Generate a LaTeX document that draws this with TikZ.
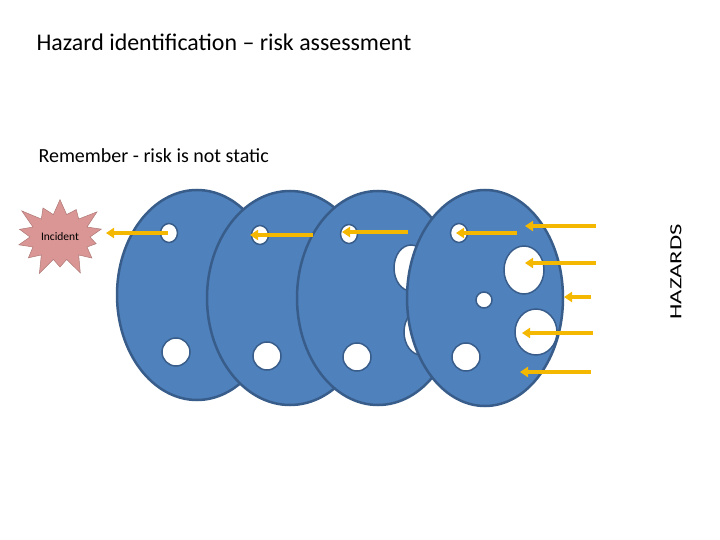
\documentclass[tikz,border=0pt]{standalone}
\usepackage{fontspec}
\setmainfont{Carlito}
\usetikzlibrary{shapes.geometric,shapes.symbols,arrows.meta}
\definecolor{sl}{HTML}{4F81BD}
\definecolor{sb}{HTML}{385D8A}
\definecolor{ar}{HTML}{F5B800}
\definecolor{pk}{HTML}{D99694}
\begin{document}
\begin{tikzpicture}[x=1pt,y=-1pt,
 slice/.style={ellipse,fill=sl,draw=sb,line width=2.5pt,inner sep=0pt},
 hole/.style={ellipse,fill=white,draw=sb,line width=1.5pt,inner sep=0pt},
 haz/.style={draw=ar,line width=3.5pt,-{Triangle[length=8pt,width=10pt]}}]
\useasboundingbox (0,0) rectangle (720,540);
\node[anchor=west,font=\fontsize{23.9}{26}\selectfont] (t) at (33,42) {Hazard identification – risk assessment};
\node[anchor=west,font=\fontsize{20}{22}\selectfont] (r) at (35,156) {Remember - risk is not static};
\node[starburst,starburst points=14,starburst point height=20pt,fill=pk,draw=pk!80!black,line width=0.5pt,minimum width=100pt,minimum height=86pt,font=\fontsize{11.5}{12}\selectfont,inner sep=0pt] (inc) at (60,237) {Incident};
\node[rotate=90,font=\fontsize{17}{19}\selectfont] (hz) at (676,272) {\scalebox{1.45}[1]{HAZARDS}};
% slice 1
\node[slice,minimum width=160pt,minimum height=210pt] (s1) at (197,295) {};
\node[hole,minimum width=17pt,minimum height=19pt] (h11) at (169,233) {};
\node[hole,minimum width=28pt,minimum height=28pt] (h12) at (176,352) {};
% slice 2
\node[slice,minimum width=166pt,minimum height=214pt] (s2) at (290,298) {};
\node[hole,minimum width=17pt,minimum height=19pt] (h21) at (260,235) {};
\node[hole,minimum width=28pt,minimum height=28pt] (h22) at (267,356) {};
% slice 3
\node[slice,minimum width=162pt,minimum height=214pt] (s3) at (378,298) {};
\node[hole,minimum width=17pt,minimum height=19pt] (h31) at (349,234) {};
\node[hole,minimum width=28pt,minimum height=28pt] (h32) at (357,357) {};
\node[hole,minimum width=34pt,minimum height=46pt] (h33) at (411,268) {};
\node[hole,minimum width=34pt,minimum height=46pt] (h34) at (421,332) {};
% slice 4
\node[slice,minimum width=156pt,minimum height=216pt] (s4) at (485,298) {};
\node[hole,minimum width=17pt,minimum height=19pt] (h41) at (459,233) {};
\node[hole,minimum width=40pt,minimum height=48pt] (h42) at (524,270) {};
\node[hole,minimum width=16pt,minimum height=16pt] (h43) at (484,300) {};
\node[hole,minimum width=42pt,minimum height=46pt] (h44) at (536,332) {};
\node[hole,minimum width=28pt,minimum height=28pt] (h45) at (466,357) {};
% arrows
\coordinate (a1) at (168,233); \coordinate (b1) at (106,233);
\coordinate (a2) at (313,235); \coordinate (b2) at (250,235);
\coordinate (a3) at (408,232); \coordinate (b3) at (342,232);
\coordinate (a4) at (517,233); \coordinate (b4) at (456,233);
\coordinate (a5) at (596,226); \coordinate (b5) at (525,226);
\coordinate (a6) at (596,263); \coordinate (b6) at (525,263);
\coordinate (a7) at (591,297); \coordinate (b7) at (564,297);
\coordinate (a8) at (593,333); \coordinate (b8) at (522,333);
\coordinate (a9) at (591,372); \coordinate (b9) at (520,372);
\foreach \i in {1,...,9} \draw[haz] (a\i) -- (b\i);
\end{tikzpicture}
\end{document}
